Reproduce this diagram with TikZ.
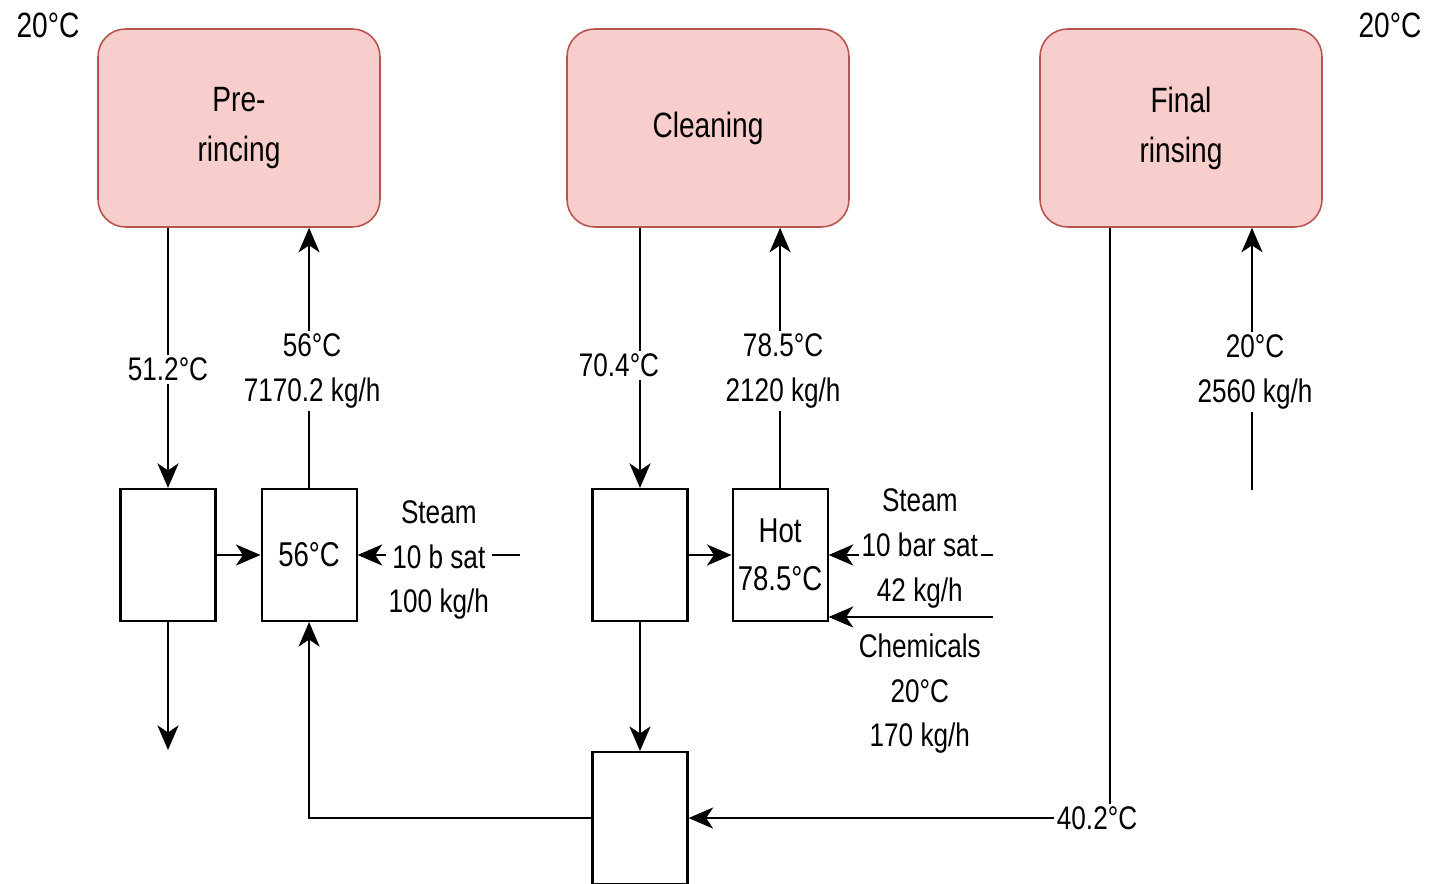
\documentclass[tikz,border=0pt]{standalone}
\usepackage{fontspec}
\setmainfont{Liberation Sans}[FakeStretch=0.8]
\usepackage{tikz}
\usetikzlibrary{positioning,arrows.meta}
\definecolor{stagefill}{HTML}{F8CECC}
\definecolor{stageline}{HTML}{B85450}

\begin{document}
\begin{tikzpicture}[
    x=0.02cm, y=-0.02cm,
    node distance=1cm,
    stage/.style={draw=stageline, fill=stagefill, line width=0.9pt, rounded corners=0.55cm, minimum width=5.64cm, minimum height=3.96cm, align=center, font=\fontsize{20}{28.5}\selectfont},
    unit/.style={draw, fill=white, line width=1.2pt, minimum width=1.9cm, minimum height=2.64cm, inner sep=0pt, align=center, font=\fontsize{19.6}{27}\selectfont},
    lbl/.style={fill=white, align=center, inner sep=1.5pt, font=\fontsize{18.6}{25.5}\selectfont},
    tag/.style={font=\fontsize{20}{24}\selectfont},
    arrow/.style={-{Stealth[length=14pt, width=12pt, inset=4pt]}, line width=1.2pt}
  ]
  \useasboundingbox (0,0) rectangle (1431,884);

  \node[tag] (tl) at (48,25) {20°C};
  \node[tag] (tr) at (1390,25) {20°C};

  \node[stage] (pre) at (239,128) {Pre-\\rincing};
  \node[stage] (cln) at (708,128) {Cleaning};
  \node[stage] (fin) at (1181,128) {Final\\rinsing};

  \node[unit] (a1) at (168,555) {};
  \node[unit, right=0.88cm of a1] (a2) {56°C};
  \node[unit] (b1) at (640,555) {};
  \node[unit, right=0.86cm of b1] (hot) {Hot\\78.5°C};
  \node[unit, below=2.58cm of b1] (bot) {};

  \coordinate (a1out) at (168,750);
  \coordinate (st1) at (520,555);
  \coordinate (st2) at (993,555);
  \coordinate (chem) at (993,617);
  \coordinate (finin) at (1252,490);

  \draw[arrow] (pre.south -| a1.north) -- node[lbl, pos=0.545]{51.2°C} (a1.north);
  \draw[arrow] (a2.north) -- node[lbl, pos=0.45, xshift=0.06cm]{56°C\\7170.2 kg/h} (a2.north |- pre.south);
  \draw[arrow] (a1) -- (a2);
  \draw[arrow] (st1) -- node[lbl, yshift=-0.1cm]{Steam\\10 b sat\\100 kg/h} (a2);
  \draw[arrow] (a1.south) -- (a1out);
  \draw[arrow] (bot.west) -| (a2.south);

  \draw[arrow] (cln.south -| b1.north) -- node[lbl, pos=0.53, xshift=-0.42cm]{70.4°C} (b1.north);
  \draw[arrow] (hot.north) -- node[lbl, pos=0.45, xshift=0.06cm]{78.5°C\\2120 kg/h} (hot.north |- cln.south);
  \draw[arrow] (b1) -- (hot);
  \draw[arrow] (st2) -- node[lbl, xshift=0.18cm, yshift=0.13cm]{Steam\\10 bar sat\\42 kg/h} (hot.east);
  \draw[arrow] (chem) -- node[lbl, anchor=north, xshift=0.18cm, yshift=-0.26cm]{Chemicals\\20°C\\170 kg/h} (chem -| hot.east);
  \draw[arrow] (b1.south) -- (bot.north);

  \draw[arrow] (finin) -- node[lbl, pos=0.45, xshift=0.06cm]{20°C\\2560 kg/h} (finin |- fin.south);
  \draw[arrow] ([xshift=-1.42cm]fin.south) |- node[lbl, pos=0.5, xshift=-0.26cm]{40.2°C} (bot.east);
\end{tikzpicture}
\end{document}
